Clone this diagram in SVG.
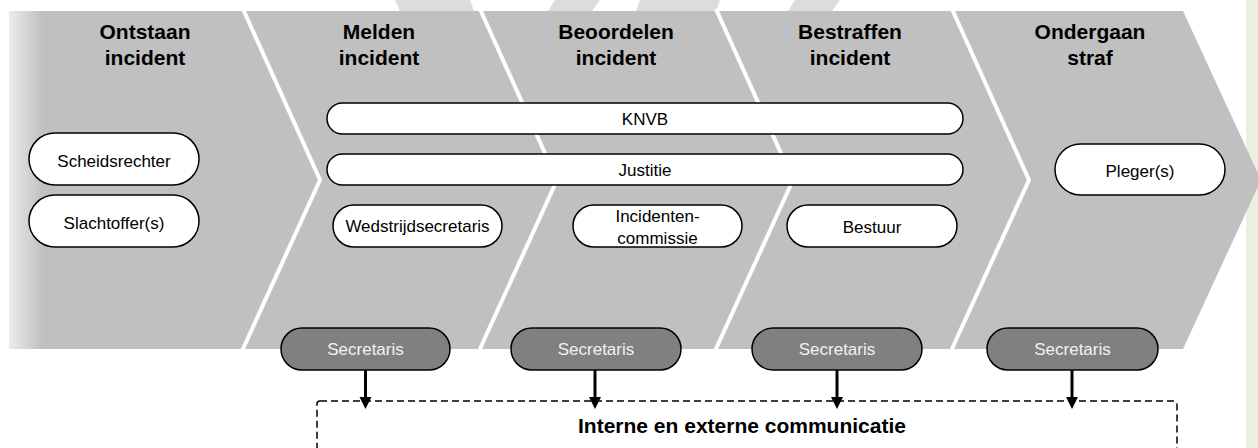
<svg xmlns="http://www.w3.org/2000/svg" width="1258" height="448" viewBox="0 0 1258 448">
<defs>
<linearGradient id="leftfade" x1="0" y1="0" x2="1" y2="0">
<stop offset="0" stop-color="#ebebeb"/>
<stop offset="1" stop-color="#c0c0c0"/>
</linearGradient>
</defs>
<style>
.hdr{font-family:"Liberation Sans",Arial,sans-serif;font-size:21px;font-weight:bold;fill:#000;text-anchor:middle}
.pill{fill:#fff;stroke:#000;stroke-width:1.5}
.sec{fill:#808080;stroke:#000;stroke-width:1.5}
.lbl{font-family:"Liberation Sans",Arial,sans-serif;font-size:17px;fill:#000;text-anchor:middle}
.slbl{font-family:"Liberation Sans",Arial,sans-serif;font-size:17px;fill:#f2f2f2;text-anchor:middle}
.div{fill:none;stroke:#fff;stroke-width:4}
.wm{fill:#dcdcdc}
.arr{stroke:#000;stroke-width:3;fill:none}
.head{fill:#000}
</style>
<rect x="0" y="0" width="1258" height="448" fill="#fff"/>
<rect x="1246" y="0" width="12" height="448" fill="#ebf1de"/>
<g id="watermark">
<polygon class="wm" points="395,0 470,0 474,11 400,11"/>
<polygon class="wm" points="555,0 600,0 592,11 548,11"/>
<polygon class="wm" points="640,0 720,0 716,11 636,11"/>
<polygon class="wm" points="795,0 840,0 832,11 788,11"/>
</g>
<g id="band">
<polygon points="9,11 1183,11 1261,180 1183,349 9,349" fill="#c0c0c0"/>
<rect x="9" y="11" width="34" height="338" fill="url(#leftfade)"/>
<polyline class="div" points="243,9 320,180 242,351"/>
<polyline class="div" points="480,9 557,180 479,351"/>
<polyline class="div" points="716,9 793,180 715,351"/>
<polyline class="div" points="952,9 1029,180 951,351"/>
</g>
<g id="headers">
<text class="hdr" x="145" y="39">Ontstaan</text><text class="hdr" x="145" y="65">incident</text>
<text class="hdr" x="379" y="39">Melden</text><text class="hdr" x="379" y="65">incident</text>
<text class="hdr" x="616" y="39">Beoordelen</text><text class="hdr" x="616" y="65">incident</text>
<text class="hdr" x="850" y="39">Bestraffen</text><text class="hdr" x="850" y="65">incident</text>
<text class="hdr" x="1090" y="39">Ondergaan</text><text class="hdr" x="1090" y="65">straf</text>
</g>
<g id="knvb"><rect class="pill" x="327" y="103" width="636" height="31" rx="15.5"/><text class="lbl" x="645" y="125">KNVB</text></g>
<g id="justitie"><rect class="pill" x="327" y="154" width="636" height="31" rx="15.5"/><text class="lbl" x="645" y="176">Justitie</text></g>
<g id="scheidsrechter"><rect class="pill" x="29" y="133" width="170" height="52" rx="26"/><text class="lbl" x="114" y="167">Scheidsrechter</text></g>
<g id="slachtoffers"><rect class="pill" x="29" y="195" width="170" height="52" rx="26"/><text class="lbl" x="114" y="229">Slachtoffer(s)</text></g>
<g id="wedstrijdsecretaris"><rect class="pill" x="333" y="205" width="169" height="42" rx="21"/><text class="lbl" x="417.5" y="232">Wedstrijdsecretaris</text></g>
<g id="incidentencommissie"><rect class="pill" x="573" y="205" width="169" height="42" rx="21"/><text class="lbl" x="657.5" y="222">Incidenten-</text><text class="lbl" x="657.5" y="244">commissie</text></g>
<g id="bestuur"><rect class="pill" x="787" y="205" width="170" height="42" rx="21"/><text class="lbl" x="872" y="233">Bestuur</text></g>
<g id="plegers"><rect class="pill" x="1055" y="144" width="170" height="51" rx="25.5"/><text class="lbl" x="1140" y="177">Pleger(s)</text></g>
<g id="secretaris1"><rect class="sec" x="281" y="328" width="169" height="42" rx="21"/><text class="slbl" x="365.5" y="355">Secretaris</text></g>
<g id="secretaris2"><rect class="sec" x="511" y="328" width="170" height="42" rx="21"/><text class="slbl" x="596" y="355">Secretaris</text></g>
<g id="secretaris3"><rect class="sec" x="752" y="328" width="170" height="42" rx="21"/><text class="slbl" x="837" y="355">Secretaris</text></g>
<g id="secretaris4"><rect class="sec" x="987" y="328" width="171" height="42" rx="21"/><text class="slbl" x="1072.5" y="355">Secretaris</text></g>
<g id="communicatie">
<rect x="317" y="401" width="860" height="70" rx="3" fill="none" stroke="#000" stroke-width="1.5" stroke-dasharray="7 4"/>
<text x="742" y="433" font-family="Liberation Sans, Arial, sans-serif" font-size="21" font-weight="bold" text-anchor="middle" fill="#000">Interne en externe communicatie</text>
</g>
<g id="connectors">
<line class="arr" x1="365.5" y1="370" x2="365.5" y2="398"/><polygon class="head" points="359.5,397 371.5,397 365.5,409"/>
<line class="arr" x1="595" y1="370" x2="595" y2="398"/><polygon class="head" points="589,397 601,397 595,409"/>
<line class="arr" x1="837" y1="370" x2="837" y2="398"/><polygon class="head" points="831,397 843,397 837,409"/>
<line class="arr" x1="1072" y1="370" x2="1072" y2="398"/><polygon class="head" points="1066,397 1078,397 1072,409"/>
</g>
</svg>
